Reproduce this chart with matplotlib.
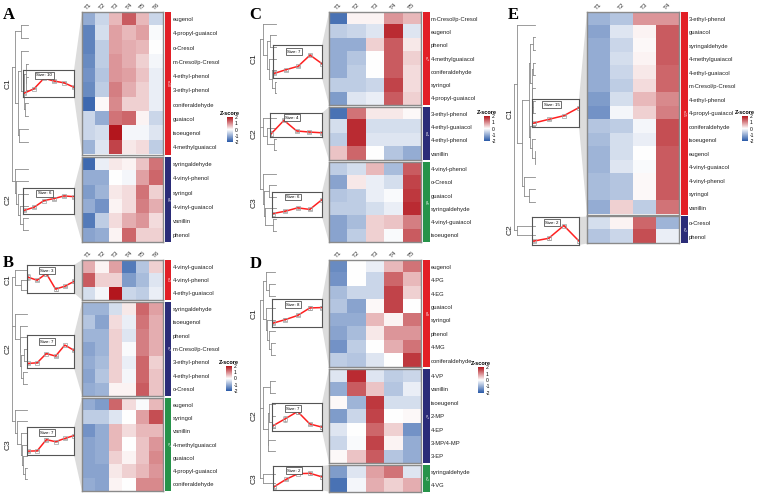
import numpy as np
import matplotlib
matplotlib.use('Agg')
import matplotlib.pyplot as plt
from matplotlib.colors import LinearSegmentedColormap
from matplotlib.patches import Polygon

plt.rcParams['font.family'] = ['Liberation Sans', 'DejaVu Sans']

W, H = 762, 495

### data (z-scores) ###
cols6 = ['T1', 'T2', 'T3', 'T4', 'T5', 'T6']
cols5 = ['T1', 'T2', 'T3', 'T4', 'T5']
cols4 = ['T1', 'T2', 'T3', 'T4']

# panel A
a_c1_names = ['eugenol', '4-propyl-guaiacol', 'o-Cresol', 'm-Cresol/p-Cresol', '4-ethyl-phenol',
              '3-ethyl-phenol', 'coniferaldehyde', 'guaiacol', 'isoeugenol', '4-methylguaiacol']
a_c1 = [[-1.0, -0.5, 0.6, 1.4, 0.6, -0.5],
        [-1.5, -0.4, 0.8, 0.6, 0.8, -0.05],
        [-1.5, -0.6, 0.8, 0.7, 0.6, 0.0],
        [-1.4, -0.6, 0.9, 0.7, 0.4, -0.1],
        [-1.3, -0.7, 0.9, 0.8, 0.5, -0.2],
        [-1.4, -0.6, 1.1, 0.7, 0.4, -0.2],
        [-1.8, 0.05, 1.0, 0.4, 0.4, -0.2],
        [-0.5, -1.0, 1.2, 1.3, 0.1, -0.5],
        [-0.5, -0.4, 2.0, -0.1, -0.1, -0.3],
        [-0.9, -0.3, 1.6, 0.2, 0.3, -0.6]]
a_c2_names = ['syringaldehyde', '4-vinyl-phenol', 'syringol', '4-vinyl-guaiacol', 'vanillin', 'phenol']
a_c2 = [[-1.8, -0.2, 0.2, 0.1, 0.5, 1.2],
        [-1.0, -1.0, 0.0, -0.1, 0.8, 1.3],
        [-1.2, -0.9, 0.2, 0.3, 1.2, 0.4],
        [-1.0, -1.3, 0.1, 0.3, 1.1, 0.7],
        [-1.6, -0.6, 0.3, 0.7, 0.9, 0.3],
        [-1.1, -1.0, 0.1, 1.3, 0.4, 0.4]]

# panel B
b_c1_names = ['4-vinyl-guaiacol', '4-vinyl-phenol', '4-ethyl-guaiacol']
b_c1 = [[0.7, 0.1, 0.8, -1.6, -0.7, 0.4],
        [1.4, 0.4, 0.4, -1.2, -0.8, -0.3],
        [-0.4, -0.1, 2.0, -0.5, -0.6, -0.2]]
b_c2_names = ['syringaldehyde', 'isoeugenol', 'phenol', 'm-Cresol/p-Cresol', '3-ethyl-phenol',
              '4-ethyl-phenol', 'o-Cresol']
b_c2 = [[-0.9, -0.9, -0.4, 0.2, 1.3, 0.8],
        [-0.7, -1.1, 0.3, -0.2, 1.2, 0.7],
        [-0.9, -0.9, 0.4, -0.3, 1.1, 0.7],
        [-1.1, -0.9, 0.4, -0.05, 1.1, 0.7],
        [-1.0, -0.8, 0.4, -0.2, 1.3, 0.4],
        [-1.1, -0.7, 0.4, -0.1, 1.3, 0.5],
        [-1.0, -0.9, 0.1, 0.1, 1.4, 0.5]]
b_c3_names = ['eugenol', 'syringol', 'vanillin', '4-methylguaiacol', 'guaiacol',
              '4-propyl-guaiacol', 'coniferaldehyde']
b_c3 = [[-1.0, -1.2, 1.3, 0.3, -0.05, 0.6],
        [-0.6, -0.6, -0.3, 0.0, 0.8, 1.5],
        [-1.3, -1.0, 0.6, 0.3, 0.6, 0.6],
        [-1.1, -1.0, 0.6, 0.0, 0.5, 0.9],
        [-1.1, -1.0, 0.4, 0.1, 0.5, 1.0],
        [-1.1, -1.1, 0.2, 0.4, 0.6, 0.9],
        [-1.0, -1.1, 0.1, 0.0, 1.0, 1.0]]

# panel C
c_c1_names = ['m-Cresol/p-Cresol', 'eugenol', 'phenol', '4-methylguaiacol', 'coniferaldehyde',
              'syringol', '4-propyl-guaiacol']
c_c1 = [[-1.7, 0.1, 0.1, 0.9, 0.6],
        [-0.6, -0.5, -0.3, 1.8, -0.3],
        [-1.0, -1.0, 0.4, 1.4, 0.2],
        [-1.0, -0.7, 0.0, 1.4, 0.4],
        [-1.0, -0.6, 0.0, 1.4, 0.3],
        [-0.6, -0.6, -0.5, 1.6, 0.3],
        [-1.2, -0.3, -0.2, 1.4, 0.4]]
c_c2_names = ['3-ethyl-phenol', '4-ethyl-guaiacol', '4-ethyl-phenol', 'vanillin']
c_c2 = [[-1.7, 1.2, 0.2, 0.2, 0.05],
        [-0.4, 1.8, -0.4, -0.4, -0.4],
        [-0.6, 1.8, -0.3, -0.3, -0.3],
        [0.5, 1.3, 0.0, -0.7, -1.0]]
c_c3_names = ['4-vinyl-phenol', 'o-Cresol', 'guaiacol', 'syringaldehyde', '4-vinyl-guaiacol', 'isoeugenol']
c_c3 = [[-0.6, -0.4, 0.6, -0.8, 1.4],
        [-1.1, 0.2, -0.2, -0.4, 1.6],
        [-0.7, -0.6, -0.2, -0.05, 1.7],
        [-0.6, -0.6, -0.4, -0.2, 1.8],
        [-1.1, -0.8, 0.4, 0.5, 1.1],
        [-1.1, -0.6, 0.4, -0.05, 1.4]]

# panel D
d_c1_names = ['eugenol', '4-PG', '4-EG', 'guaiacol', 'syringol', 'phenol', '4-MG', 'coniferaldehyde']
d_c1 = [[-1.4, 0.0, -0.2, 0.6, 1.2],
        [-1.3, 0.0, -0.5, 1.3, 0.6],
        [-0.8, -0.5, -0.5, 1.6, 0.4],
        [-0.7, -1.1, 0.05, 1.6, 0.0],
        [-1.0, -1.0, 0.6, 0.1, 1.2],
        [-1.1, -0.8, 0.2, 0.9, 0.9],
        [-1.3, -0.6, 0.0, 0.7, 1.2],
        [-0.6, -0.7, -0.3, 0.0, 1.7]]
d_c2_names = ['4-VP', 'vanillin', 'isoeugenol', '2-MP', '4-EP', '3-MP/4-MP', '3-EP']
d_c2 = [[-0.3, 1.8, -0.3, -0.6, -0.5],
        [-1.0, 1.4, 0.5, -0.7, -0.2],
        [0.05, -0.9, 1.7, -0.4, -0.4],
        [-1.2, -0.5, 1.6, 0.0, 0.05],
        [-0.3, 0.0, 1.3, 0.4, -1.3],
        [-0.5, -0.05, 1.6, 0.1, -1.0],
        [0.05, 0.5, 1.4, -0.7, -1.0]]
d_c3_names = ['syringaldehyde', '4-VG']
d_c3 = [[-1.2, -0.3, 0.8, 1.2, -0.3],
        [-1.7, -0.1, 0.7, 0.4, 0.7]]

# panel E
e_c1_names = ['3-ethyl-phenol', 'guaiacol', 'syringaldehyde', '4-methylguaiacol', '4-ethyl-guaiacol',
              'm-Cresol/p-Cresol', '4-ethyl-phenol', '4-propyl-guaiacol', 'coniferaldehyde',
              'isoeugenol', 'eugenol', '4-vinyl-guaiacol', '4-vinyl-phenol', 'syringol', 'vanillin']
e_c1 = [[-0.9, -0.7, 0.9, 0.9],
        [-1.1, -0.3, 0.1, 1.4],
        [-1.0, -0.5, 0.05, 1.4],
        [-1.0, -0.4, 0.1, 1.4],
        [-1.0, -0.5, 0.2, 1.3],
        [-1.0, -0.6, 0.3, 1.3],
        [-1.2, -0.4, 0.6, 1.0],
        [-1.3, -0.1, 0.4, 1.1],
        [-0.7, -0.6, -0.1, 1.5],
        [-0.8, -0.4, -0.2, 1.5],
        [-0.9, -0.4, 0.0, 1.4],
        [-0.9, -0.3, -0.05, 1.4],
        [-0.8, -0.7, 0.05, 1.4],
        [-0.8, -0.7, 0.05, 1.4],
        [-1.0, 0.4, -0.6, 1.2]]
e_c2_names = ['o-Cresol', 'phenol']
e_c2 = [[-0.4, 0.1, 1.3, -0.9],
        [-0.7, -0.5, 1.5, -0.2]]

block_colors = ['#e21f26', '#2b2c78', '#26934a']
cmap = LinearSegmentedColormap.from_list('zs', ['#2a5aa8', '#ffffff', '#b3161d'])

# layout (pixels)
panels = [
    dict(letter='A', lpos=(3, 15), cols=cols6,
         blocks=[(a_c1_names, a_c1), (a_c2_names, a_c2)],
         hx=(82, 163), top=12, rowh=14.25, gap=2.5,
         insets=[(23, 70, 74, 97), (23, 188, 74, 214)],
         dendro=(12, 28), clab=8, cbar=(227, 117, 233, 142)),
    dict(letter='B', lpos=(3, 263), cols=cols6,
         blocks=[(b_c1_names, b_c1), (b_c2_names, b_c2), (b_c3_names, b_c3)],
         hx=(82, 163), top=260, rowh=13.3, gap=2.5,
         insets=[(27, 265, 74, 293), (27, 335, 74, 368), (27, 427, 74, 455)],
         dendro=(12, 27), clab=8, cbar=(226, 366, 232, 391)),
    dict(letter='C', lpos=(249, 15), cols=cols5,
         blocks=[(c_c1_names, c_c1), (c_c2_names, c_c2), (c_c3_names, c_c3)],
         hx=(329, 421), top=12, rowh=13.3, gap=2.0,
         insets=[(273, 45, 322, 78), (270, 113, 322, 137), (272, 192, 322, 217)],
         dendro=(260, 276), clab=254, cbar=(484, 116, 490, 141)),
    dict(letter='D', lpos=(250, 264), cols=cols5,
         blocks=[(d_c1_names, d_c1), (d_c2_names, d_c2), (d_c3_names, d_c3)],
         hx=(329, 421), top=260, rowh=13.4, gap=2.0,
         insets=[(272, 299, 322, 327), (272, 403, 322, 431), (273, 466, 322, 490)],
         dendro=(260, 275), clab=254, cbar=(478, 367, 484, 393)),
    dict(letter='E', lpos=(508, 15), cols=cols4,
         blocks=[(e_c1_names, e_c1), (e_c2_names, e_c2)],
         hx=(587, 679), top=12, rowh=13.5, gap=2.0,
         insets=[(532, 99, 579, 127), (532, 217, 579, 245)],
         dendro=(514, 535), clab=510, cbar=(742, 116, 748, 141)),
]


def px_axes(fig, x0, y0, x1, y1, **kw):
    return fig.add_axes([x0 / W, 1 - y1 / H, (x1 - x0) / W, (y1 - y0) / H], **kw)


def avg_linkage(X):
    n = len(X)
    D = np.sqrt(((X[:, None, :] - X[None, :, :]) ** 2).sum(-1))
    clusters = {i: [i] for i in range(n)}
    merges = []
    nxt = n
    while len(clusters) > 1:
        keys = list(clusters)
        best = None
        for i in range(len(keys)):
            for j in range(i + 1, len(keys)):
                d = D[np.ix_(clusters[keys[i]], clusters[keys[j]])].mean()
                if best is None or d < best[0]:
                    best = (d, keys[i], keys[j])
        d, a, b = best
        merges.append((a, b, d, nxt))
        clusters[nxt] = clusters.pop(a) + clusters.pop(b)
        nxt += 1
    return merges


def draw_dendro(ax, X, ytop, ybot, xleaf, xroot, color='#8c8c8c'):
    n = len(X)
    merges = avg_linkage(X)
    kids = {m[3]: (m[0], m[1]) for m in merges}
    hts = {m[3]: m[2] for m in merges}

    def order(node):
        if node < n:
            return [node]
        return order(kids[node][0]) + order(kids[node][1])

    root = merges[-1][3]
    leaves = order(root)
    ys = np.linspace(ytop, ybot, n + 2)[1:-1]
    ypos = {leaf: ys[k] for k, leaf in enumerate(leaves)}
    hmax = max(hts.values())
    xpos = {i: xleaf for i in range(n)}
    for a, b, h, nid in merges:
        xpos[nid] = xleaf - h / hmax * (xleaf - xroot)
        ypos[nid] = (ypos[a] + ypos[b]) / 2
        ax.plot([xpos[nid], xpos[nid]], [ypos[a], ypos[b]], color=color, lw=0.6)
        ax.plot([xpos[a], xpos[nid]], [ypos[a], ypos[a]], color=color, lw=0.6)
        ax.plot([xpos[b], xpos[nid]], [ypos[b], ypos[b]], color=color, lw=0.6)
    return xpos[root], ypos[root]


fig = plt.figure(figsize=(W / 100, H / 100), dpi=100)
base = fig.add_axes([0, 0, 1, 1])
base.set_xlim(0, W)
base.set_ylim(H, 0)
base.axis('off')

for p in panels:
    base.text(p['lpos'][0], p['lpos'][1], p['letter'], fontsize=12, fontweight='bold',
              family='Liberation Serif', ha='left', va='center')
    hx0, hx1 = p['hx']
    y = p['top']
    ncol = len(p['cols'])
    roots = []
    d0, d1 = p['dendro']
    for k, (names, vals) in enumerate(p['blocks']):
        vals = np.array(vals)
        n = len(names)
        yb = y + n * p['rowh']
        # heatmap block
        ax = px_axes(fig, hx0, y, hx1, yb)
        ax.imshow(vals, cmap=cmap, vmin=-2, vmax=2, aspect='auto', interpolation='nearest')
        ax.yaxis.tick_right()
        ax.set_yticks(range(n))
        ax.set_yticklabels(names, fontsize=4.2, color='#222222')
        ax.tick_params(length=0, pad=7)
        if k == 0:
            ax.xaxis.tick_top()
            ax.set_xticks(range(ncol))
            ax.set_xticklabels(p['cols'], fontsize=4.5, rotation=45, color='#333333')
            ax.tick_params(axis='x', length=0, pad=1)
        else:
            ax.set_xticks([])
        for s in ax.spines.values():
            s.set_color('#8a8a8a')
            s.set_linewidth(1.0)
        # cluster annotation bar
        cb = px_axes(fig, hx1 + 1.5, y, hx1 + 8.5, yb)
        cb.set_facecolor(block_colors[k])
        cb.set_xticks([])
        cb.set_yticks([])
        for s in cb.spines.values():
            s.set_visible(False)
        cb.text(0.5, 0.5, f'n:{n}', color='white', fontsize=2.5, rotation=-90,
                ha='center', va='center', transform=cb.transAxes)
        # cluster label
        base.text(p['clab'], (y + yb) / 2, f'C{k + 1}', fontsize=6, rotation=90,
                  ha='center', va='center', color='#222222')
        # dendrogram
        rx, ry = draw_dendro(base, vals, y, yb, d1, d0 + 3)
        roots.append((rx, ry))
        # trapezoid link to inset
        ix0, iy0, ix1, iy1 = p['insets'][k]
        base.add_patch(Polygon([(ix1, iy0), (hx0, y), (hx0, yb), (ix1, iy1)],
                               closed=True, fc='#dcdcdc', ec='none', zorder=0))
        # line-plot inset
        ia = px_axes(fig, ix0, iy0, ix1, iy1)
        ia.patch.set_alpha(0)
        mean = vals.mean(0)
        err = vals.std(0) / np.sqrt(n)
        tx = np.arange(ncol)
        ia.errorbar(tx, mean, yerr=err, fmt='s', ms=2.5, mfc='none', mec='#a0a0a0',
                    ecolor='#a0a0a0', elinewidth=0.5, capsize=1.5, mew=0.5)
        ia.plot(tx, mean, color='#ff2020', lw=1.1)
        r = mean.max() - mean.min()
        ia.set_ylim(mean.min() - 0.25 * r, mean.max() + 0.55 * r)
        ia.set_xlim(-0.1, ncol - 1)
        ia.set_xticks([])
        ia.set_yticks([])
        for s in ia.spines.values():
            s.set_color('#555555')
            s.set_linewidth(0.8)
        ia.text(0.42, 0.8, f'Size: {n}', transform=ia.transAxes, fontsize=3.2,
                ha='center', va='center',
                bbox=dict(boxstyle='square,pad=0.3', fc='white', ec='#333333', lw=0.5))
        y = yb + p['gap']
    # join cluster roots
    ry = [r[1] for r in roots]
    base.plot([d0, d0], [min(ry), max(ry)], color='#8c8c8c', lw=0.6)
    for rx, yy in roots:
        base.plot([d0, rx], [yy, yy], color='#8c8c8c', lw=0.6)
    # colour key
    cx0, cy0, cx1, cy1 = p['cbar']
    ck = px_axes(fig, cx0, cy0, cx1, cy1)
    ck.imshow(np.linspace(2, -2, 100)[:, None], cmap=cmap, vmin=-2, vmax=2,
              aspect='auto', extent=[0, 1, -2, 2])
    ck.set_xticks([])
    ck.yaxis.tick_right()
    ck.set_yticks([2, 1, 0, -1, -2])
    ck.set_yticklabels(['2', '1', '0', '-1', '-2'], fontsize=3.6)
    ck.tick_params(axis='y', length=0, pad=1)
    for s in ck.spines.values():
        s.set_visible(False)
    ck.set_title('Z-score', fontsize=4, fontweight='bold', pad=1.5)

fig.savefig('out.png', dpi=100)
